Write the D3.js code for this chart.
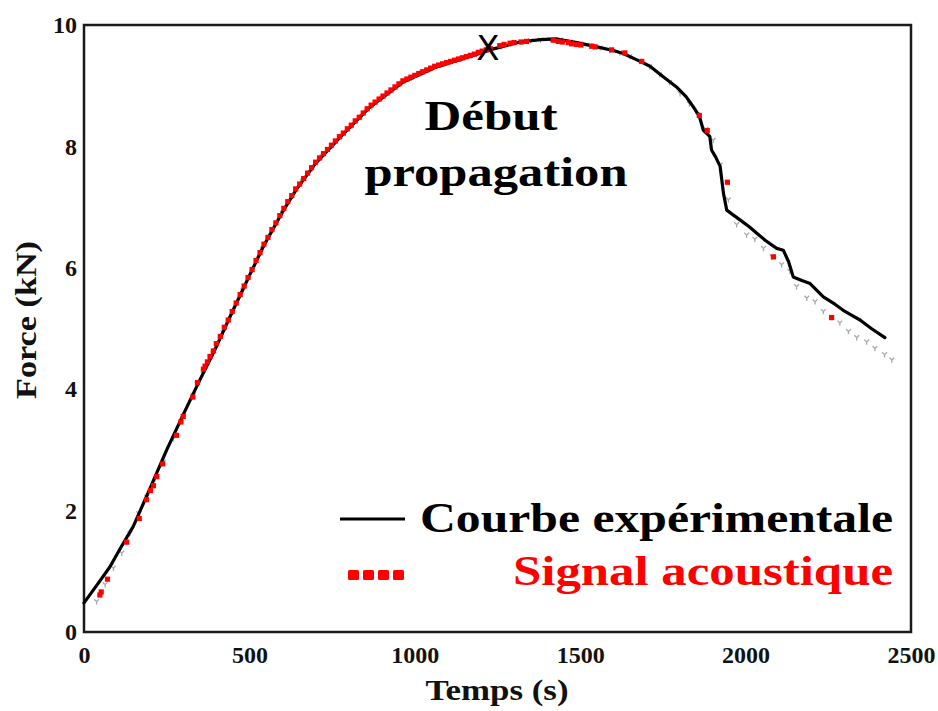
<!DOCTYPE html>
<html>
<head>
<meta charset="utf-8">
<script src="https://cdn.jsdelivr.net/npm/d3@7"></script>
<style>
  html, body { margin: 0; padding: 0; background: #fff; }
  svg { display: block; }
  text { font-family: "Liberation Serif", "DejaVu Serif", serif; }
</style>
</head>
<body>
<svg id="chart" width="938" height="711"></svg>
<script>
// ---------- data ----------
const xTicks = [0, 500, 1000, 1500, 2000, 2500];
const yTicks = [0, 2, 4, 6, 8, 10];

// Courbe expérimentale (time s, force kN)
const expT = [0,40,78,110,149,200,250,300,350,400,441,500,542,600,643,700,774,865,965,1066,1167,1227,1318,1380,1430,1490,1550,1600,1630,1681,1711,1750,1791,1820,1842,1860,1872,1885,1892,1897,1910,1923,1928,1933,1943,1960,1983,2010,2034,2060,2094,2114,2130,2144,2170,2195,2235,2270,2295,2320,2346,2380,2421];
const expF = [0.48,0.78,1.07,1.38,1.74,2.37,3.0,3.58,4.15,4.70,5.19,5.87,6.35,6.92,7.30,7.72,8.15,8.65,9.06,9.31,9.48,9.59,9.72,9.76,9.77,9.71,9.64,9.58,9.53,9.40,9.32,9.15,8.98,8.82,8.65,8.50,8.27,8.20,8.16,7.94,7.82,7.67,7.45,7.23,6.95,6.88,6.79,6.68,6.57,6.45,6.32,6.29,6.10,5.85,5.79,5.74,5.52,5.40,5.30,5.22,5.14,5.00,4.85];

// grey model markers
const modelT = [38,64,89,114,139,165,190,215,240,270,300,330,360,390,420,450,480,510,540,570,600,630,660,690,720,750,780,810,840,870,900,930,960,990,1020,1050,1080,1110,1140,1170,1200,1230,1260,1290,1320,1350,1380,1410,1440,1470,1500,1530,1560,1590,1620,1650,1680,1710,1740,1770,1802,1830,1855,1880,1902,1923,1948,1973,2003,2028,2054,2080,2109,2134,2154,2185,2210,2235,2260,2285,2311,2336,2366,2391,2420,2442];
const modelF = [0.50,0.78,1.05,1.30,1.62,1.95,2.22,2.52,2.80,3.18,3.55,3.90,4.25,4.58,4.93,5.27,5.62,5.98,6.31,6.62,6.90,7.18,7.42,7.63,7.83,8.00,8.17,8.33,8.49,8.64,8.79,8.92,9.04,9.12,9.21,9.28,9.34,9.39,9.44,9.48,9.54,9.59,9.64,9.68,9.72,9.74,9.75,9.76,9.75,9.72,9.69,9.66,9.62,9.58,9.54,9.48,9.40,9.31,9.18,9.05,8.87,8.70,8.52,8.28,8.10,7.69,7.12,6.71,6.54,6.47,6.32,6.18,6.05,5.94,5.69,5.50,5.44,5.28,5.18,5.09,4.95,4.85,4.78,4.67,4.57,4.48];

// Signal acoustique (red events)
const acT = [48,52,71,129,167,189,201,210,220,238,280,293,300,329,343,361,366,373,381,391,
  400,412,424,436,448,460,472,484,496,508,520,532,544,556,568,580,592,604,616,628,640,
  652,664,676,688,700,712,724,736,748,760,772,784,796,808,820,832,844,856,868,880,892,904,
  916,928,940,952,964,976,988,1000,1012,1024,1036,1048,1060,1072,1084,1096,1108,1120,1132,
  1144,1156,1168,1180,1192,1204,1216,1228,
  1257,1270,1288,1300,1322,1338,1419,1434,1446,1464,1474,1489,1502,1535,1545,1595,1635,1686,1860,1884,1945,2084,2260];
const acF = [0.61,0.66,0.87,1.48,1.87,2.18,2.33,2.41,2.56,2.77,3.24,3.46,3.55,3.87,4.11,4.33,4.38,4.45,4.54,4.63,
  4.75,4.87,5.02,5.14,5.28,5.42,5.56,5.70,5.84,5.97,6.12,6.25,6.39,6.50,6.63,6.74,6.86,6.98,7.09,7.19,7.30,
  7.38,7.47,7.56,7.65,7.74,7.81,7.88,7.95,8.02,8.09,8.16,8.22,8.29,8.35,8.42,8.48,8.55,8.62,8.68,8.73,8.78,8.83,
  8.88,8.93,8.98,9.03,9.08,9.11,9.14,9.17,9.20,9.23,9.26,9.29,9.32,9.34,9.36,9.38,9.40,9.42,9.44,
  9.46,9.48,9.50,9.52,9.55,9.57,9.59,9.61,
  9.66,9.68,9.70,9.71,9.72,9.73,9.75,9.73,9.72,9.71,9.69,9.68,9.67,9.65,9.64,9.59,9.54,9.40,8.51,8.26,7.41,6.18,5.18];

// ---------- layout ----------
const svg = d3.select("#chart");
const mLeft = 84, mRight = 911, mTop = 25, mBottom = 632;
const x = d3.scaleLinear().domain([0, 2500]).range([mLeft, mRight]);
const y = d3.scaleLinear().domain([0, 10]).range([mBottom, mTop]);

// frame
svg.append("rect")
  .attr("x", mLeft).attr("y", mTop)
  .attr("width", mRight - mLeft).attr("height", mBottom - mTop)
  .attr("fill", "none").attr("stroke", "#1a1a1a").attr("stroke-width", 2.5);

// axes (labels only)
const xAxis = d3.axisBottom(x).tickValues(xTicks).tickFormat(d3.format("d"))
  .tickSize(0).tickPadding(14);
const gx = svg.append("g").attr("transform", `translate(0,${mBottom})`).call(xAxis);
gx.select(".domain").remove();
gx.selectAll("text").attr("font-size", 24).attr("font-weight", "bold")
  .attr("fill", "#111").style("font-family", '"Liberation Serif", serif');

const yAxis = d3.axisLeft(y).tickValues(yTicks).tickFormat(d3.format("d"))
  .tickSize(0).tickPadding(7);
const gy = svg.append("g").attr("transform", `translate(${mLeft},0)`).call(yAxis);
gy.select(".domain").remove();
gy.selectAll("text").attr("font-size", 24).attr("font-weight", "bold")
  .attr("fill", "#111").style("font-family", '"Liberation Serif", serif');

// axis titles
svg.append("text").attr("x", 497).attr("y", 700)
  .attr("text-anchor", "middle").attr("font-size", 30).attr("font-weight", "bold")
  .attr("textLength", 143).attr("lengthAdjust", "spacingAndGlyphs")
  .attr("fill", "#111").text("Temps (s)");
svg.append("text").attr("transform", `translate(36,320) rotate(-90)`)
  .attr("text-anchor", "middle").attr("font-size", 30).attr("font-weight", "bold")
  .attr("textLength", 158).attr("lengthAdjust", "spacingAndGlyphs")
  .attr("fill", "#111").text("Force (kN)");

// grey model markers
const modelData = modelT.map((t, i) => [t, modelF[i]]);
svg.append("g").selectAll("path").data(modelData).join("path")
  .attr("transform", d => `translate(${x(d[0])},${y(d[1])})`)
  .attr("d", "M-2.4,-2.4L0,0L2.4,-2.4M0,0L0,2.8")
  .attr("fill", "none").attr("stroke", "#a8a8a8").attr("stroke-width", 1.3);

// black curve
const expData = expT.map((t, i) => [t, expF[i]]);
svg.append("path").datum(expData)
  .attr("d", d3.line().x(d => x(d[0])).y(d => y(d[1])))
  .attr("fill", "none").attr("stroke", "#000").attr("stroke-width", 3.2)
  .attr("stroke-linejoin", "round").attr("stroke-linecap", "round");

// red acoustic events
const acData = acT.map((t, i) => [t, acF[i]]);
svg.append("g").selectAll("rect").data(acData).join("rect")
  .attr("x", d => x(d[0]) - 2.6).attr("y", d => y(d[1]) - 2.6)
  .attr("width", 5.2).attr("height", 5.2).attr("fill", "#ff0000");

// start-of-propagation marker and annotation
svg.append("text").attr("x", x(1221)).attr("y", y(9.62) + 12)
  .attr("text-anchor", "middle").attr("font-size", 34)
  .style("font-family", '"DejaVu Sans", sans-serif').attr("fill", "#000").text("X");
svg.append("text").attr("x", 491).attr("y", 130)
  .attr("text-anchor", "middle").attr("font-size", 42).attr("font-weight", "bold")
  .attr("textLength", 133).attr("lengthAdjust", "spacingAndGlyphs")
  .attr("fill", "#000").text("Début");
svg.append("text").attr("x", 496).attr("y", 186)
  .attr("text-anchor", "middle").attr("font-size", 42).attr("font-weight", "bold")
  .attr("textLength", 263).attr("lengthAdjust", "spacingAndGlyphs")
  .attr("fill", "#000").text("propagation");

// legend
svg.append("line").attr("x1", 340).attr("x2", 405).attr("y1", 519).attr("y2", 519)
  .attr("stroke", "#000").attr("stroke-width", 3);
svg.append("g").selectAll("rect").data([0, 1, 2, 3]).join("rect")
  .attr("x", d => 348 + d * 15).attr("y", 570).attr("width", 11).attr("height", 10)
  .attr("rx", 1.5).attr("fill", "#ff0000");
svg.append("text").attr("x", 893).attr("y", 532)
  .attr("text-anchor", "end").attr("font-size", 42).attr("font-weight", "bold")
  .attr("textLength", 473).attr("lengthAdjust", "spacingAndGlyphs")
  .attr("fill", "#000").text("Courbe expérimentale");
svg.append("text").attr("x", 893).attr("y", 585)
  .attr("text-anchor", "end").attr("font-size", 42).attr("font-weight", "bold")
  .attr("textLength", 380).attr("lengthAdjust", "spacingAndGlyphs")
  .attr("fill", "#ff0000").text("Signal acoustique");
</script>
</body>
</html>
